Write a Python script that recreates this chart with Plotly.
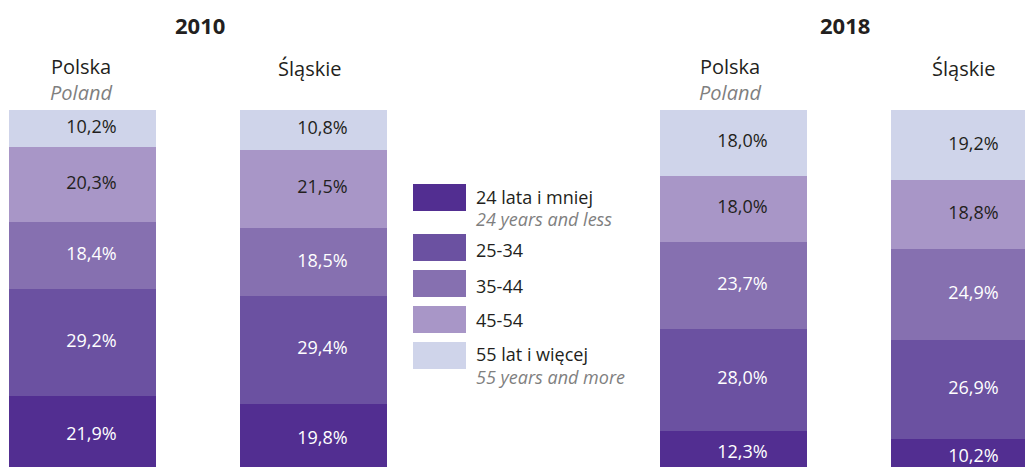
import plotly.graph_objects as go

# ---- data ----
groups = ["Polska 2010", "Śląskie 2010", "Polska 2018", "Śląskie 2018"]
age_pl = ["24 lata i mniej", "25-34", "35-44", "45-54", "55 lat i więcej"]
age_en = ["24 years and less", "", "", "", "55 years and more"]
v_24 = [21.9, 19.8, 12.3, 10.2]
v_25_34 = [29.2, 29.4, 28.0, 26.9]
v_35_44 = [18.4, 18.5, 23.7, 24.9]
v_45_54 = [20.3, 21.5, 18.0, 18.8]
v_55 = [10.2, 10.8, 18.0, 19.2]
years = ["2010", "2018"]
region_pl = ["Polska", "Śląskie", "Polska", "Śląskie"]
region_en = ["Poland", "", "Poland", ""]

# ---- styling / layout ----
colors = ["#522e91", "#6b51a1", "#8670b0", "#a896c7", "#cfd4ea"]
label_colors = ["#ffffff", "#ffffff", "#ffffff", "#231f20", "#231f20"]
DARK = "#231f20"
GRAY = "#7f7f7f"
FONT = "Open Sans"
W, H = 1025, 467
BAR_X = [82.5, 313.5, 733.5, 964.5]
BAR_W = 147
LABEL_DX = 9
Y0_PX, Y100_PX = 476, 110
px_per_unit = (Y0_PX - Y100_PX) / 100.0
y_top = Y0_PX / px_per_unit
y_bot = (Y0_PX - H) / px_per_unit

series = [v_24, v_25_34, v_35_44, v_45_54, v_55]

fig = go.Figure()
base = [0.0] * len(groups)
for i, vals in enumerate(series):
    fig.add_trace(go.Bar(
        x=BAR_X, y=vals, base=base, width=BAR_W,
        marker=dict(color=colors[i], line=dict(width=0)),
        name=age_pl[i], hoverinfo="skip", showlegend=False,
    ))
    mids = [b + v / 2 for b, v in zip(base, vals)]
    fig.add_trace(go.Scatter(
        x=[x + LABEL_DX for x in BAR_X], y=mids, mode="text",
        text=[f"{v:.1f}".replace(".", ",") + "%" for v in vals],
        textposition="middle center",
        textfont=dict(family=FONT, size=18, color=label_colors[i]),
        hoverinfo="skip", showlegend=False, cliponaxis=False,
    ))
    base = [b + v for b, v in zip(base, vals)]

def py(p):
    return 1 - p / H

annotations = []
# year headers
for yr, xc in zip(years, [200, 844.5]):
    annotations.append(dict(x=xc, y=py(25), xref="x", yref="paper", text=f"<b>{yr}</b>",
                            showarrow=False, xanchor="center", yanchor="middle",
                            font=dict(family=FONT, size=22, color=DARK)))
# region headers
for xc, rp, re in zip([81, 309, 730, 963], region_pl, region_en):
    if re:
        txt = f"{rp}<br><span style='color:{GRAY}'><i>{re}</i></span>"
        yc = 79.5
    else:
        txt = rp
        yc = 68
    annotations.append(dict(x=xc, y=py(yc), xref="x", yref="paper", text=txt,
                            showarrow=False, xanchor="center", yanchor="middle",
                            font=dict(family=FONT, size=20, color=DARK)))

# custom legend
shapes = []
LEG_X0, LEG_X1 = 413, 466
leg_tops = [184, 234, 270, 306, 342]
leg_h = 27
leg_text_y = [197, 250, 286, 320, 354]
leg_sub_y = [219, None, None, None, 377]
for i in range(5):
    shapes.append(dict(type="rect", xref="x", yref="paper",
                       x0=LEG_X0, x1=LEG_X1, y0=py(leg_tops[i] + leg_h), y1=py(leg_tops[i]),
                       fillcolor=colors[i], line=dict(width=0), layer="above"))
    annotations.append(dict(x=474, y=py(leg_text_y[i]), xref="x", yref="paper", text=age_pl[i],
                            showarrow=False, xanchor="left", yanchor="middle",
                            font=dict(family=FONT, size=18, color=DARK)))
    if age_en[i]:
        annotations.append(dict(x=474, y=py(leg_sub_y[i]), xref="x", yref="paper",
                                text=f"<i>{age_en[i]}</i>",
                                showarrow=False, xanchor="left", yanchor="middle",
                                font=dict(family=FONT, size=18, color=GRAY)))

fig.update_layout(
    width=W, height=H, margin=dict(l=0, r=0, t=0, b=0),
    paper_bgcolor="white", plot_bgcolor="white",
    barmode="stack", showlegend=False,
    xaxis=dict(range=[0, W], visible=False, fixedrange=True),
    yaxis=dict(range=[y_bot, y_top], visible=False, fixedrange=True),
    annotations=annotations, shapes=shapes,
)

fig.write_html("out.html", config={"displayModeBar": False},
               post_script="document.body.style.margin='0';document.body.style.overflow='hidden';")
